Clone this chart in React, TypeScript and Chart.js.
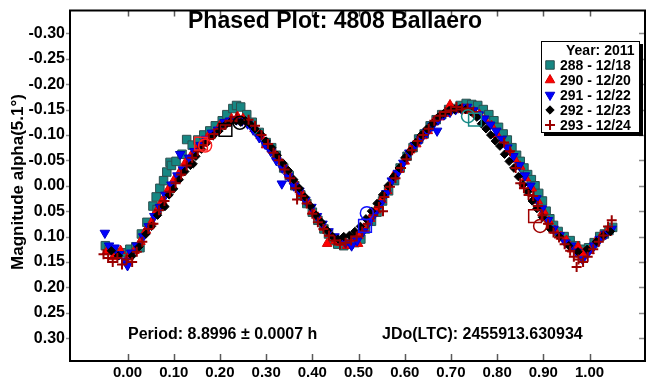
import { useEffect, useRef } from 'react';
import { Chart, registerables } from 'chart.js';
import { drawPoint } from 'chart.js/helpers';

Chart.register(...registerables);

const FONT = '"Liberation Sans", Arial, sans-serif';

const TITLE = 'Phased Plot: 4808 Ballaero';
const Y_TITLE = 'Magnitude alpha(5.1°)';
const PERIOD_TEXT = 'Period: 8.8996 ± 0.0007 h';
const JDO_TEXT = 'JDo(LTC): 2455913.630934';
const LEGEND_HEADER = 'Year: 2011';

const xTicks = [0, 0.1, 0.2, 0.3, 0.4, 0.5, 0.6, 0.7, 0.8, 0.9, 1.0];
const yTicks = [-0.3, -0.25, -0.2, -0.15, -0.1, -0.05, 0, 0.05, 0.1, 0.15, 0.2, 0.25, 0.3];

const sessionLabels = ['288 - 12/18', '290 - 12/20', '291 - 12/22', '292 - 12/23', '293 - 12/24'];

// [phase, magnitude] per session
const s288: [number, number][] = [
  [-0.048, 0.118], [-0.04, 0.126], [-0.03, 0.128], [-0.012, 0.132], [0.005, 0.125], [0.018, 0.12],
  [0.027, 0.122], [0.03, 0.095], [0.042, 0.072], [0.055, 0.04], [0.062, 0.022], [0.064, 0.047],
  [0.07, 0.005], [0.078, -0.01], [0.085, -0.027], [0.092, -0.046], [0.095, -0.04], [0.105, -0.048],
  [0.118, -0.062], [0.128, -0.091], [0.14, -0.08], [0.152, -0.09], [0.165, -0.1], [0.178, -0.108],
  [0.19, -0.118], [0.205, -0.128], [0.215, -0.14], [0.228, -0.152], [0.236, -0.158], [0.245, -0.155],
  [0.258, -0.14], [0.27, -0.125], [0.285, -0.105], [0.3, -0.085], [0.312, -0.075], [0.322, -0.06],
  [0.338, -0.035], [0.35, -0.02], [0.362, 0.0], [0.375, 0.018], [0.388, 0.035], [0.4, 0.052],
  [0.412, 0.068], [0.425, 0.085], [0.435, 0.095], [0.445, 0.108], [0.455, 0.115], [0.468, 0.118],
  [0.48, 0.115], [0.492, 0.112], [0.505, 0.105], [0.515, 0.085], [0.528, 0.07], [0.54, 0.052],
  [0.552, 0.03], [0.565, 0.01], [0.578, -0.01], [0.59, -0.035], [0.605, -0.058], [0.618, -0.075],
  [0.63, -0.092], [0.642, -0.102], [0.655, -0.118], [0.668, -0.13], [0.68, -0.14], [0.695, -0.15],
  [0.708, -0.152], [0.72, -0.158], [0.733, -0.162], [0.745, -0.16], [0.758, -0.158], [0.77, -0.15],
  [0.782, -0.14], [0.793, -0.128], [0.803, -0.115], [0.813, -0.102], [0.822, -0.09], [0.832, -0.075],
  [0.842, -0.06], [0.85, -0.048], [0.858, -0.035], [0.866, -0.022], [0.874, -0.012], [0.882, 0.0],
  [0.89, 0.015], [0.898, 0.03], [0.906, 0.05], [0.914, 0.065], [0.922, 0.078], [0.932, 0.09],
  [0.945, 0.1], [0.958, 0.108], [0.97, 0.118], [0.985, 0.125], [0.998, 0.122], [1.01, 0.112],
  [1.022, 0.1], [1.032, 0.095], [1.042, 0.088], [1.05, 0.082],
];

const s290: [number, number][] = [
  [-0.045, 0.13], [-0.03, 0.14], [-0.015, 0.128], [0.002, 0.14], [0.015, 0.128], [0.028, 0.11],
  [0.04, 0.088], [0.052, 0.072], [0.063, 0.05], [0.075, 0.03], [0.088, 0.008], [0.1, -0.01],
  [0.112, -0.025], [0.125, -0.045], [0.137, -0.058], [0.15, -0.072], [0.162, -0.083], [0.175, -0.098],
  [0.188, -0.105], [0.2, -0.118], [0.212, -0.122], [0.225, -0.132], [0.238, -0.136], [0.25, -0.132],
  [0.262, -0.125], [0.275, -0.112], [0.288, -0.098], [0.3, -0.08], [0.312, -0.072], [0.325, -0.055],
  [0.338, -0.04], [0.35, -0.022], [0.363, -0.005], [0.375, 0.012], [0.388, 0.03], [0.4, 0.05],
  [0.412, 0.062], [0.425, 0.082], [0.432, 0.114], [0.438, 0.095], [0.45, 0.108], [0.462, 0.112],
  [0.475, 0.118], [0.488, 0.105], [0.499, 0.114], [0.5, 0.098], [0.512, 0.085], [0.525, 0.065],
  [0.538, 0.048], [0.55, 0.028], [0.562, 0.01], [0.575, -0.018], [0.588, -0.032], [0.6, -0.048],
  [0.612, -0.07], [0.625, -0.082], [0.638, -0.098], [0.65, -0.108], [0.662, -0.125], [0.675, -0.135],
  [0.688, -0.142], [0.698, -0.159], [0.712, -0.15], [0.725, -0.152], [0.738, -0.148], [0.75, -0.145],
  [0.762, -0.14], [0.775, -0.128], [0.788, -0.118], [0.8, -0.1], [0.812, -0.085], [0.825, -0.07],
  [0.838, -0.052], [0.85, -0.038], [0.862, -0.015], [0.875, 0.005], [0.888, 0.03], [0.9, 0.05],
  [0.912, 0.07], [0.925, 0.088], [0.938, 0.1], [0.95, 0.108], [0.962, 0.125], [0.975, 0.12],
  [0.988, 0.132], [1.0, 0.128], [1.012, 0.112], [1.025, 0.1], [1.038, 0.092],
];

const s291: [number, number][] = [
  [-0.049, 0.093], [-0.04, 0.118], [-0.028, 0.122], [-0.018, 0.135], [-0.005, 0.148], [0.0, 0.157],
  [0.008, 0.132], [0.02, 0.118], [0.034, 0.1], [0.046, 0.08], [0.058, 0.06], [0.07, 0.042],
  [0.082, 0.018], [0.095, -0.002], [0.108, -0.02], [0.114, -0.062], [0.12, -0.032], [0.133, -0.055],
  [0.145, -0.068], [0.158, -0.08], [0.17, -0.092], [0.183, -0.104], [0.196, -0.11], [0.21, -0.125],
  [0.222, -0.128], [0.236, -0.13], [0.248, -0.128], [0.26, -0.122], [0.272, -0.11], [0.285, -0.095],
  [0.298, -0.082], [0.31, -0.068], [0.322, -0.05], [0.334, -0.004], [0.335, -0.035], [0.348, -0.018],
  [0.36, 0.0], [0.372, 0.01], [0.385, 0.028], [0.398, 0.042], [0.41, 0.06], [0.422, 0.075],
  [0.435, 0.09], [0.448, 0.1], [0.46, 0.108], [0.472, 0.112], [0.485, 0.118], [0.497, 0.108],
  [0.51, 0.09], [0.522, 0.072], [0.535, 0.055], [0.548, 0.035], [0.56, 0.015], [0.572, -0.01],
  [0.585, -0.025], [0.597, -0.045], [0.61, -0.065], [0.622, -0.08], [0.635, -0.092], [0.648, -0.105],
  [0.66, -0.118], [0.67, -0.108], [0.672, -0.13], [0.685, -0.14], [0.698, -0.145], [0.71, -0.15],
  [0.722, -0.152], [0.735, -0.155], [0.748, -0.148], [0.76, -0.14], [0.772, -0.132], [0.785, -0.12],
  [0.798, -0.108], [0.81, -0.092], [0.822, -0.075], [0.835, -0.058], [0.848, -0.04], [0.86, -0.02],
  [0.872, 0.0], [0.885, 0.025], [0.897, 0.045], [0.91, 0.068], [0.922, 0.085], [0.935, 0.098],
  [0.948, 0.112], [0.96, 0.118], [0.972, 0.13], [0.985, 0.145], [0.998, 0.13], [1.01, 0.118],
  [1.022, 0.105], [1.035, 0.095], [1.048, 0.085],
];

const s292: [number, number][] = [
  [-0.035, 0.128], [-0.02, 0.138], [0.01, 0.138], [0.025, 0.12], [0.04, 0.095], [0.052, 0.08],
  [0.065, 0.058], [0.078, 0.04], [0.081, 0.041], [0.09, 0.018], [0.1, 0.006], [0.112, -0.012],
  [0.124, -0.028], [0.136, -0.04], [0.142, -0.043], [0.148, -0.058], [0.16, -0.072], [0.172, -0.085],
  [0.185, -0.098], [0.198, -0.108], [0.21, -0.118], [0.222, -0.125], [0.235, -0.128], [0.245, -0.125],
  [0.255, -0.128], [0.265, -0.122], [0.276, -0.112], [0.288, -0.102], [0.3, -0.088], [0.312, -0.075],
  [0.324, -0.06], [0.336, -0.045], [0.348, -0.03], [0.36, -0.012], [0.372, 0.005], [0.384, 0.022],
  [0.396, 0.04], [0.408, 0.058], [0.42, 0.072], [0.432, 0.088], [0.444, 0.1], [0.456, 0.105],
  [0.468, 0.1], [0.48, 0.098], [0.492, 0.09], [0.504, 0.08], [0.516, 0.065], [0.528, 0.05],
  [0.54, 0.035], [0.552, 0.018], [0.564, 0.0], [0.576, -0.018], [0.588, -0.035], [0.6, -0.055],
  [0.612, -0.068], [0.624, -0.085], [0.636, -0.1], [0.648, -0.112], [0.66, -0.122], [0.672, -0.135],
  [0.684, -0.142], [0.696, -0.148], [0.708, -0.15], [0.72, -0.152], [0.732, -0.15], [0.744, -0.145],
  [0.756, -0.135], [0.766, -0.122], [0.776, -0.112], [0.786, -0.1], [0.796, -0.088], [0.806, -0.078],
  [0.816, -0.062], [0.826, -0.048], [0.836, -0.035], [0.846, -0.018], [0.856, -0.002], [0.866, 0.012],
  [0.876, 0.03], [0.886, 0.045], [0.898, 0.062], [0.915, 0.085], [0.935, 0.1], [0.955, 0.118],
  [0.975, 0.13], [0.995, 0.125], [1.015, 0.11], [1.03, 0.098], [1.045, 0.09],
];

const s293: [number, number][] = [
  [-0.052, 0.135], [-0.042, 0.142], [-0.032, 0.15], [-0.022, 0.142], [-0.012, 0.155], [-0.002, 0.145],
  [0.01, 0.15], [0.02, 0.13], [0.032, 0.11], [0.045, 0.085], [0.056, 0.075], [0.068, 0.048],
  [0.08, 0.03], [0.092, 0.012], [0.104, -0.005], [0.116, -0.022], [0.128, -0.04], [0.14, -0.055],
  [0.152, -0.068], [0.164, -0.08], [0.176, -0.092], [0.188, -0.102], [0.2, -0.112], [0.212, -0.12],
  [0.224, -0.128], [0.236, -0.135], [0.262, -0.13], [0.276, -0.118], [0.29, -0.1], [0.304, -0.082],
  [0.316, -0.065], [0.328, -0.05], [0.34, -0.032], [0.352, -0.015], [0.364, 0.005], [0.367, 0.027],
  [0.376, 0.02], [0.388, 0.035], [0.4, 0.055], [0.412, 0.072], [0.424, 0.085], [0.436, 0.098],
  [0.448, 0.108], [0.46, 0.115], [0.472, 0.112], [0.484, 0.108], [0.496, 0.1], [0.508, 0.09],
  [0.52, 0.075], [0.532, 0.058], [0.544, 0.042], [0.553, 0.05], [0.556, 0.022], [0.568, 0.002],
  [0.58, -0.015], [0.592, -0.035], [0.604, -0.052], [0.616, -0.07], [0.628, -0.088], [0.64, -0.1],
  [0.652, -0.112], [0.664, -0.128], [0.676, -0.138], [0.688, -0.145], [0.7, -0.148], [0.712, -0.155],
  [0.724, -0.15], [0.736, -0.152], [0.748, -0.145], [0.815, -0.085], [0.828, -0.068], [0.84, -0.035],
  [0.85, -0.005], [0.858, 0.005], [0.868, 0.018], [0.878, 0.02], [0.888, 0.04], [0.898, 0.058],
  [0.91, 0.075], [0.922, 0.092], [0.934, 0.102], [0.946, 0.115], [0.958, 0.128], [0.966, 0.14],
  [0.972, 0.16], [0.976, 0.145], [0.986, 0.15], [0.996, 0.14], [1.008, 0.125], [1.02, 0.11],
  [1.03, 0.098], [1.04, 0.08], [1.048, 0.068],
];

// first observation of each session: [circle, box]
const start288: [number, number][] = [[0.737, -0.137], [0.752, -0.13]];
const start290: [number, number][] = [[0.168, -0.079], [0.159, -0.083]];
const start291: [number, number][] = [[0.518, 0.054], [0.514, 0.079]];
const start292: [number, number][] = [[0.243, -0.124], [0.212, -0.11]];
const start293: [number, number][] = [[0.893, 0.079], [0.882, 0.06]];

const sessionData = [s288, s290, s291, s292, s293];
const sessionStarts = [start288, start290, start291, start292, start293];

const sessionStyles = [
  { pointStyle: 'rect', rotation: 0, radius: 6, bg: '#168783', border: '#2d4f4f', bw: 1 },
  { pointStyle: 'triangle', rotation: 0, radius: 5.5, bg: '#ff0000', border: '#d40000', bw: 1 },
  { pointStyle: 'triangle', rotation: 180, radius: 5.5, bg: '#0000ff', border: '#0000c8', bw: 1 },
  { pointStyle: 'rectRot', rotation: 0, radius: 4.2, bg: '#000000', border: '#000000', bw: 1 },
  { pointStyle: 'cross', rotation: 0, radius: 5, bg: '#9a0000', border: '#9a0000', bw: 2 },
];
const startColors = ['#178a86', '#ff2020', '#1010ff', '#000000', '#a00000'];

const toXY = (arr: [number, number][]) => arr.map(([x, y]) => ({ x, y }));

const framePlugin = {
  id: 'frameAndTicks',
  beforeDatasetsDraw(chart: any) {
    const { ctx, chartArea } = chart;
    const { left, right, top, bottom } = chartArea;
    const xs = chart.scales.x;
    const ys = chart.scales.y;
    ctx.save();
    ctx.lineWidth = 1.5;
    ctx.strokeStyle = '#8c8c8c';
    yTicks.forEach((v) => {
      const py = Math.round(ys.getPixelForValue(v)) + 0.5;
      ctx.beginPath();
      ctx.moveTo(left - 4, py);
      ctx.lineTo(left, py);
      ctx.moveTo(right - 6, py);
      ctx.lineTo(right, py);
      ctx.stroke();
    });
    ctx.strokeStyle = '#5a5a5a';
    xTicks.forEach((v) => {
      const px = Math.round(xs.getPixelForValue(v)) + 0.5;
      ctx.beginPath();
      ctx.moveTo(px, bottom);
      ctx.lineTo(px, bottom - 7);
      ctx.moveTo(px, top);
      ctx.lineTo(px, top + 6);
      ctx.stroke();
    });
    ctx.lineWidth = 2;
    ctx.strokeStyle = '#000';
    ctx.strokeRect(left, top, right - left, bottom - top);

    ctx.fillStyle = '#000';
    ctx.textBaseline = 'middle';
    ctx.textAlign = 'center';
    ctx.font = `bold 23px ${FONT}`;
    ctx.fillText(TITLE, 335, 22);

    ctx.textAlign = 'left';
    ctx.font = `bold 16px ${FONT}`;
    ctx.fillText(PERIOD_TEXT, 128, 335);
    ctx.fillText(JDO_TEXT, 382, 335);

    ctx.save();
    ctx.translate(18, 182);
    ctx.rotate(-Math.PI / 2);
    ctx.textAlign = 'center';
    ctx.font = `bold 17px ${FONT}`;
    ctx.fillText(Y_TITLE, 0, 0);
    ctx.restore();
    ctx.restore();
  },
  afterDatasetsDraw(chart: any) {
    const { ctx } = chart;
    const x0 = 541;
    const y0 = 41;
    const w = 99;
    const h = 92;
    ctx.save();
    ctx.fillStyle = '#000';
    ctx.fillRect(x0 + 3, y0 + 3, w, h);
    ctx.fillStyle = '#fff';
    ctx.fillRect(x0, y0, w, h);
    ctx.lineWidth = 1;
    ctx.strokeStyle = '#000';
    ctx.strokeRect(x0 + 0.5, y0 + 0.5, w - 1, h - 1);
    ctx.font = `bold 14px ${FONT}`;
    ctx.textBaseline = 'middle';
    ctx.textAlign = 'left';
    ctx.fillStyle = '#000';
    ctx.fillText(LEGEND_HEADER, 566, y0 + 10);
    sessionLabels.forEach((label, i) => {
      const st = sessionStyles[i];
      const y = y0 + 24 + i * 15;
      ctx.fillStyle = st.bg;
      ctx.strokeStyle = st.border;
      ctx.lineWidth = st.bw;
      drawPoint(ctx, { pointStyle: st.pointStyle, rotation: st.rotation, radius: st.radius, borderWidth: st.bw } as any, 550, y);
      ctx.fillStyle = '#000';
      ctx.fillText(label, 560, y + 1);
    });
    ctx.restore();
  },
};

export default function App() {
  const canvasRef = useRef<HTMLCanvasElement | null>(null);

  useEffect(() => {
    document.body.style.margin = '0';
    const canvas = canvasRef.current;
    if (!canvas) return;

    const datasets: any[] = sessionData.map((pts, i) => {
      const st = sessionStyles[i];
      return {
        label: sessionLabels[i],
        data: toXY(pts),
        pointStyle: st.pointStyle,
        rotation: st.rotation,
        pointRadius: st.radius,
        pointBackgroundColor: st.bg,
        pointBorderColor: st.border,
        pointBorderWidth: st.bw,
        showLine: false,
        order: 6 - i,
      };
    });
    sessionStarts.forEach((pts, i) => {
      datasets.push({
        label: `start ${sessionLabels[i]}`,
        data: toXY(pts),
        pointStyle: ['circle', 'rect'],
        pointRadius: [6.5, 9],
        pointBackgroundColor: 'rgba(0,0,0,0)',
        pointBorderColor: startColors[i],
        pointBorderWidth: 1.5,
        showLine: false,
        order: 0,
      });
    });

    const chart = new Chart(canvas, {
      type: 'scatter',
      data: { datasets },
      plugins: [framePlugin],
      options: {
        responsive: false,
        animation: false,
        devicePixelRatio: 1,
        layout: { padding: { top: 5, right: 13, left: 0, bottom: 0 } },
        plugins: {
          legend: { display: false },
          tooltip: { enabled: false },
          title: { display: false },
        },
        scales: {
          x: {
            type: 'linear',
            min: -0.1245,
            max: 1.12,
            afterBuildTicks: (s: any) => {
              s.ticks = xTicks.map((value) => ({ value }));
            },
            afterFit: (s: any) => {
              s.height = 24;
              s.paddingLeft = 0;
              s.paddingRight = 0;
            },
            grid: { display: false, drawTicks: false },
            border: { display: false },
            ticks: {
              padding: 3,
              color: '#000',
              font: { family: FONT, size: 15, weight: 'bold' },
              maxRotation: 0,
              autoSkip: false,
              callback: (v: any) => Number(v).toFixed(2),
            },
          },
          y: {
            type: 'linear',
            reverse: true,
            min: -0.345,
            max: 0.345,
            afterBuildTicks: (s: any) => {
              s.ticks = yTicks.map((value) => ({ value }));
            },
            afterFit: (s: any) => {
              s.width = 70;
              s.paddingTop = 0;
              s.paddingBottom = 0;
            },
            grid: { display: false, drawTicks: false },
            border: { display: false },
            ticks: {
              padding: 5,
              color: '#000',
              font: { family: FONT, size: 16, weight: 'bold' },
              autoSkip: false,
              callback: (v: any) => Number(v).toFixed(2),
            },
          },
        },
      },
    });

    return () => chart.destroy();
  }, []);

  return (
    <div style={{ width: 658, height: 385, background: '#fff' }}>
      <canvas ref={canvasRef} width={658} height={385} style={{ display: 'block' }} />
    </div>
  );
}
